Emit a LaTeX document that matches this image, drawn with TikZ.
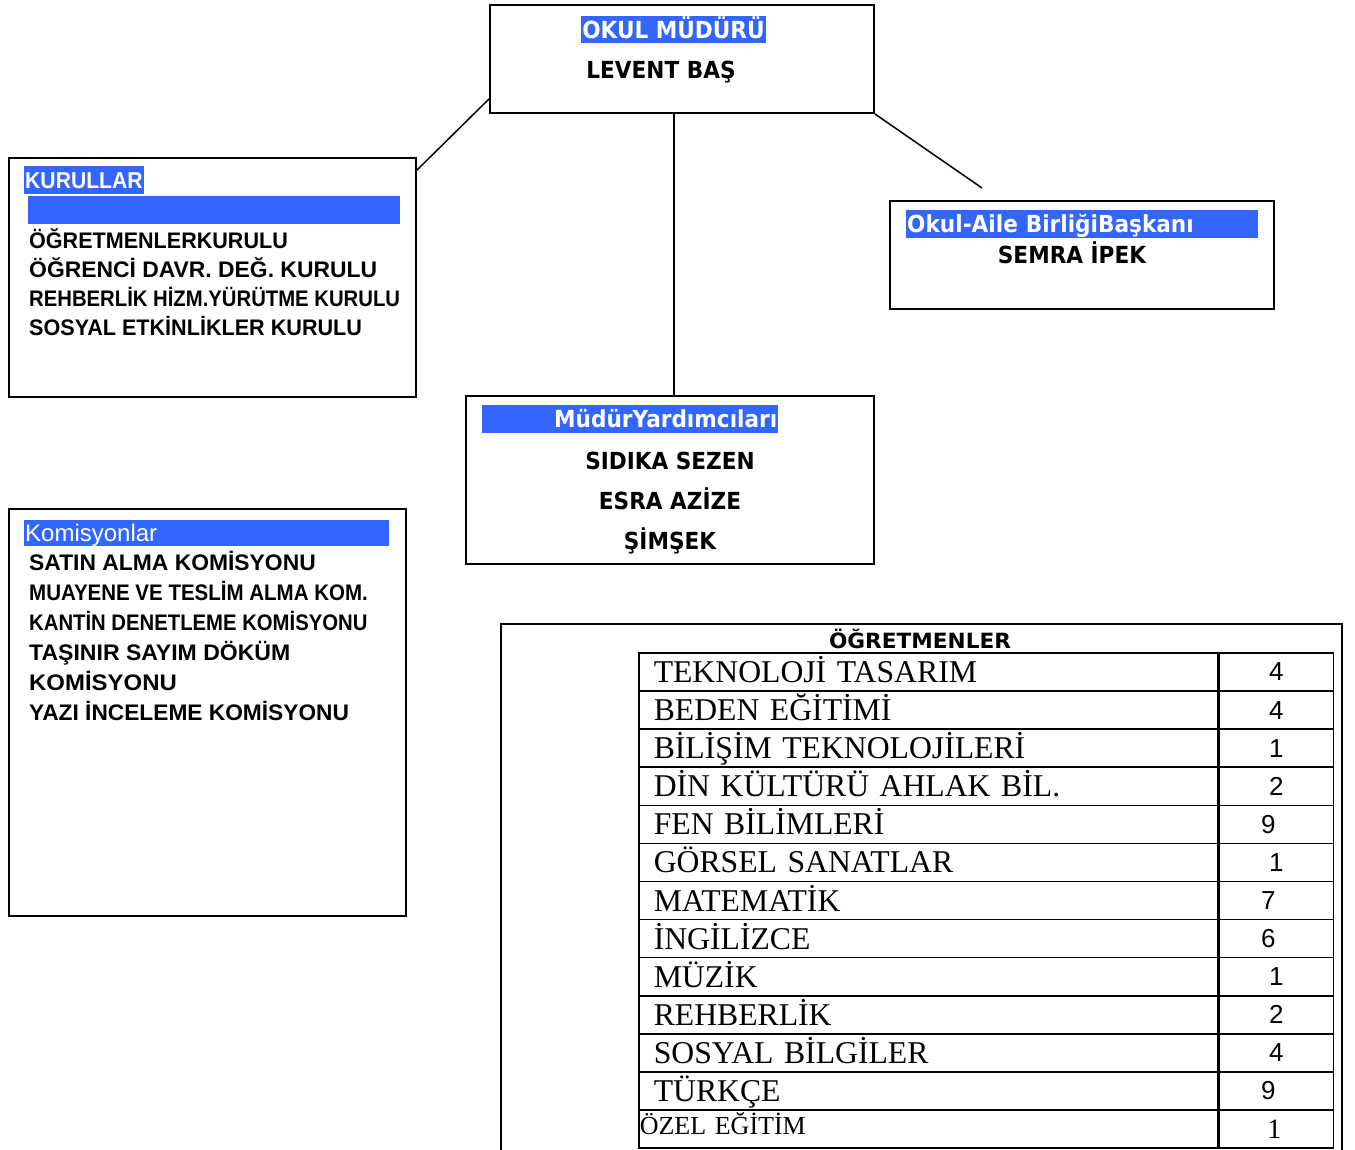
\documentclass[tikz,border=0pt]{standalone}
\usepackage{graphicx}
\usepackage{fontspec}
\setmainfont{Liberation Serif}
\newfontfamily\tahoma[FakeStretch=0.92]{DejaVu Sans}
\newfontfamily\genis[FakeStretch=1.03]{DejaVu Sans}
\newfontfamily\arial{Liberation Sans}
\definecolor{vurgu}{RGB}{51,102,255}

\begin{document}
\begin{tikzpicture}[x=1pt, y=-1pt,
  kutu/.style={draw, line width=2pt, inner sep=0pt, anchor=north west},
  isim/.style={inner sep=0pt, text height=17.1pt, text depth=0pt, font=\tahoma\bfseries\fontsize{23.5}{24}\selectfont},
  baslik/.style={fill=vurgu, text=white, inner ysep=0pt, inner xsep=1pt},
  satir/.style={anchor=west, inner sep=0pt, text height=16.1pt, text depth=0pt, font=\arial\bfseries\fontsize{22.5}{23}\selectfont},
  hucre/.style={draw, line width=1.5pt, anchor=west, minimum height=38pt, inner ysep=0pt, font=\fontsize{31.7}{32}\selectfont},
  bag/.style={line width=1.5pt}]

  \useasboundingbox (0,0) rectangle (1355,1149);

  % mudur
  \node[kutu, minimum width=384pt, minimum height=108pt] (mudur) at (489,4) {};
  \node[isim, baslik, minimum height=27pt] (mudurbaslik) at (673.5,29.5) {OKUL MÜDÜRÜ};
  \node[isim] (mudurad) at (661,70) {LEVENT BAŞ};

  % kurullar
  \node[kutu, minimum width=407pt, minimum height=239pt] (kurullar) at (8,157) {};
  \node[baslik, anchor=west, minimum height=28pt, text height=16.5pt, text depth=0pt, font=\arial\bfseries\fontsize{23}{23}\selectfont] (kurulbaslik) at (24,180) {\scalebox{0.92}[1]{KURULLAR}};
  \node[fill=vurgu, anchor=north west, inner sep=0pt, minimum width=372pt, minimum height=28pt] (kurulbant) at (28,196) {};
  \foreach \ad/\sx [count=\i] in {ÖĞRETMENLERKURULU/0.958, ÖĞRENCİ DAVR. DEĞ. KURULU/1.017, REHBERLİK HİZM.YÜRÜTME KURULU/0.902, SOSYAL ETKİNLİKLER KURULU/0.96}
    \node[satir] (kurul\i) at (29,{240+29.3*(\i-1)}) {\scalebox{\sx}[1]{\ad}};

  % okul-aile birligi
  \node[kutu, minimum width=384pt, minimum height=108pt] (aile) at (889,200) {};
  \node[isim, baslik, anchor=west, minimum height=28pt, text width=350pt, align=left] (ailebaslik) at (906,224) {Okul-Aile BirliğiBaşkanı};
  \node[isim] (ailead) at (1072,255) {SEMRA İPEK};

  % mudur yardimcilari
  \node[kutu, minimum width=408pt, minimum height=168pt] (yardimci) at (465,395) {};
  \node[isim, baslik, anchor=west, minimum height=28pt, text width=294pt, align=right] (yardimcibaslik) at (482,419) {MüdürYardımcıları};
  \foreach \ad/\y [count=\i] in {SIDIKA SEZEN/461, ESRA AZİZE/501, ŞİMŞEK/541}
    \node[isim] (yardimci\i) at (670,\y) {\ad};

  % komisyonlar
  \node[kutu, minimum width=397pt, minimum height=407pt] (komisyon) at (8,508) {};
  \node[baslik, anchor=west, minimum height=26pt, text width=363pt, align=left, text height=17.2pt, text depth=0pt, font=\arial\fontsize{24}{24}\selectfont] (komisyonbaslik) at (24,533) {Komisyonlar};
  \foreach \ad/\sx [count=\i] in {SATIN ALMA KOMİSYONU/1.016, MUAYENE VE TESLİM ALMA KOM./0.911, KANTİN DENETLEME KOMİSYONU/0.902, TAŞINIR SAYIM DÖKÜM/1.024, KOMİSYONU/1.064, YAZI İNCELEME KOMİSYONU/1.01}
    \node[satir] (komisyon\i) at (29,{562+30*(\i-1)}) {\scalebox{\sx}[1]{\ad}};

  % ogretmenler
  \node[kutu, line width=1.5pt, minimum width=841pt, minimum height=540pt] (ogretmen) at (500,623) {};
  \node[inner sep=0pt, text height=15pt, text depth=0pt, font=\genis\bfseries\fontsize{21}{21}\selectfont] (ogretmenbaslik) at (920,641) {ÖĞRETMENLER};
  \foreach \ders/\sayi/\dx [count=\i] in {TEKNOLOJİ TASARIM/4/0, BEDEN EĞİTİMİ/4/0, BİLİŞİM TEKNOLOJİLERİ/1/0, DİN KÜLTÜRÜ AHLAK BİL./2/0, FEN BİLİMLERİ/9/-8, GÖRSEL SANATLAR/1/0, MATEMATİK/7/-8, İNGİLİZCE/6/-8, MÜZİK/1/0, REHBERLİK/2/0, SOSYAL BİLGİLER/4/0, TÜRKÇE/9/-8}
  {
    \node[hucre, minimum width=579pt, text width=549pt, inner xsep=15pt, align=left, text height=21pt, text depth=0pt] (ders\i) at (638,{653+38.08*(\i-0.5)}) {\ders};
    \node[hucre, minimum width=114pt] (hane\i) at (ders\i.east) {};
    \node[inner sep=0pt, font=\arial\fontsize{26}{26}\selectfont] (sayi\i) at ([xshift=\dx pt]hane\i.center) {\sayi};
  }
  \node[hucre, minimum width=579pt, text width=577pt, inner xsep=1pt, align=left, text height=17.2pt, text depth=6pt, font=\fontsize{26}{26}\selectfont] (ders13) at (638,{653+38.08*12.5}) {ÖZEL EĞİTİM};
  \node[hucre, minimum width=114pt] (hane13) at (ders13.east) {};
  \node[inner sep=0pt, font=\fontsize{28}{28}\selectfont] (sayi13) at ([xshift=-2pt]hane13.center) {1};

  % baglar
  \coordinate (ailebag) at (982,188);
  \draw[bag] ([yshift=15pt]mudur.south west) -- ([yshift=-13pt]kurullar.north east);
  \draw[bag] ([xshift=-8pt]mudur.south) -- ([xshift=4pt]yardimci.north);
  \draw[bag] (mudur.south east) -- (ailebag);
\end{tikzpicture}
\end{document}
